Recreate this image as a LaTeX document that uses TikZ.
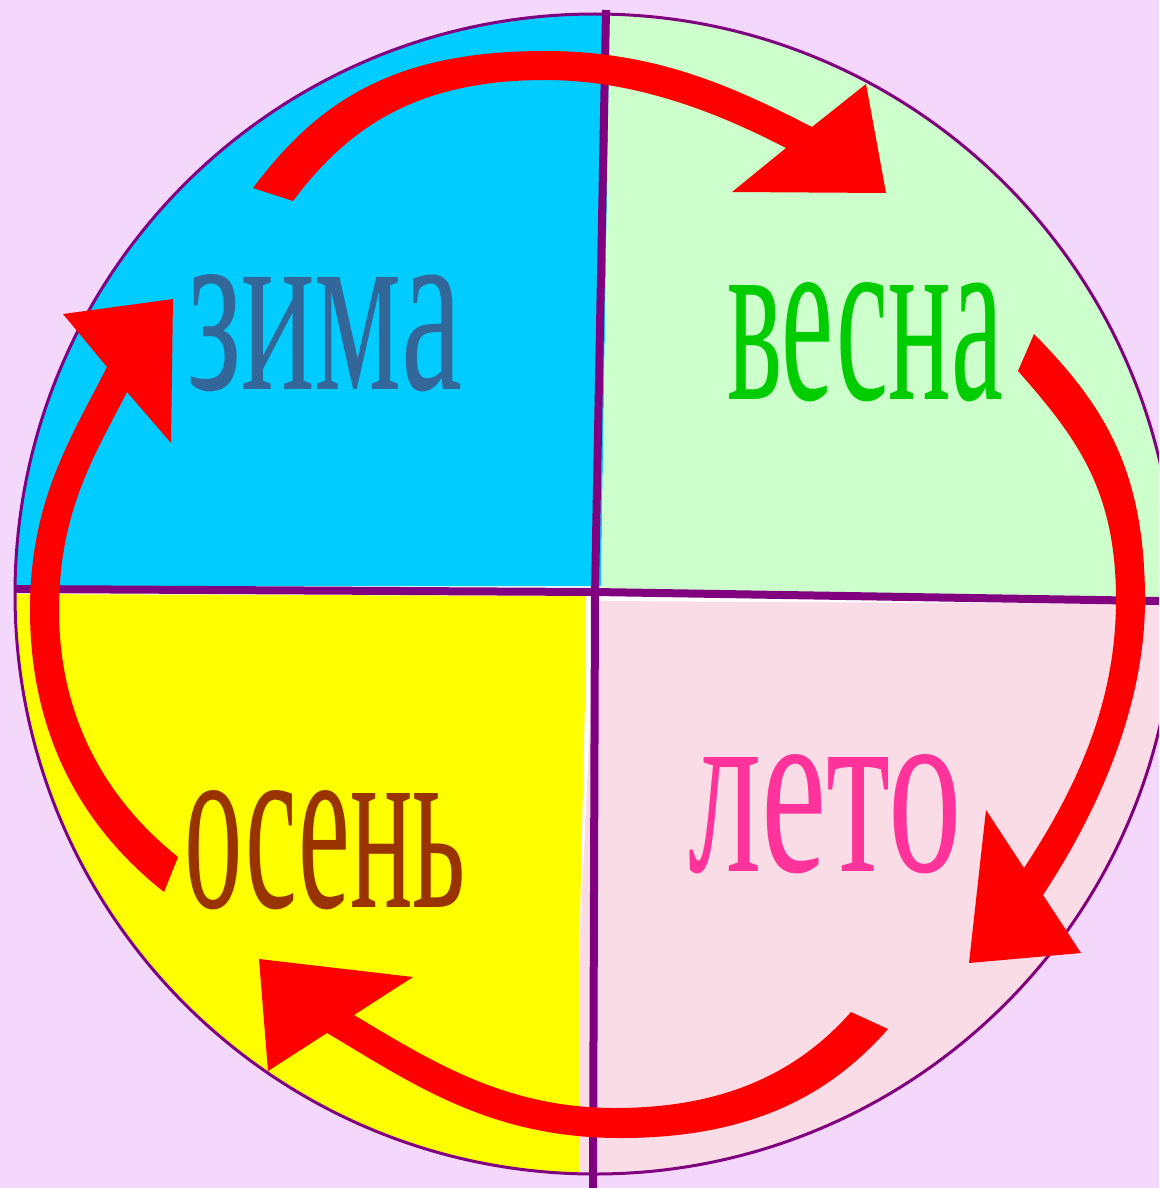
\documentclass[tikz,border=0pt]{standalone}
\usepackage{fontspec}
\usepackage{graphicx}
\newfontfamily\wordfont{Liberation Serif}
\definecolor{bgpurple}{HTML}{F4D8FC}
\definecolor{qblue}{HTML}{00CCFF}
\definecolor{qgreen}{HTML}{CCFFCC}
\definecolor{qyellow}{HTML}{FFFF00}
\definecolor{qpink}{HTML}{FADCE6}
\definecolor{linepurple}{HTML}{800080}
\definecolor{arrowred}{HTML}{FF0000}
\definecolor{tzima}{HTML}{336699}
\definecolor{tvesna}{HTML}{00CC00}
\definecolor{tosen}{HTML}{993300}
\definecolor{tleto}{HTML}{FF3399}
\tikzset{
  divline/.style={draw=linepurple, line width=8pt},
  rim/.style={draw=linepurple, line width=3pt},
  bandarrow/.style={fill=arrowred},
  word/.style={anchor=south west, inner sep=0pt, outer sep=0pt}
}
\begin{document}
\begin{tikzpicture}[x=1pt,y=-1pt]
\useasboundingbox (0,0) rectangle (1159,1188);
\clip (0,0) rectangle (1159,1188);
\fill[bgpurple] (0,0) rectangle (1159,1188);
% quadrants
\fill[white] (595,594) circle[radius=580];
\begin{scope}
  \clip (595,594) circle[radius=580];
  \fill[qblue] (0,0) -- (610,0) -- (601,586) -- (0,586) -- cycle;
  \fill[qgreen] (610,0) -- (1159,0) -- (1159,597) -- (601,590) -- cycle;
  \fill[qyellow] (0,594) -- (585,596) -- (585,700) -- (579,960) -- (579,1188) -- (0,1188) -- cycle;
  \fill[qpink] (597,601) -- (1159,604) -- (1159,1188) -- (579,1188) -- (579,960) -- (590,720) -- cycle;
\end{scope}
\draw[rim] (595,594) circle[radius=580];
% dividing lines
\draw[divline] (606,10) -- (595,592) -- (593,1188);
\draw[divline] (15,589) -- (595,592) -- (1159,601);
% top arrow: winter -> spring
\fill[bandarrow] (253,188) .. controls (319,100) and (395,51) .. (545,51)
  .. controls (655,51) and (732,86) .. (812,127)
  -- (866,84) -- (886,193) -- (732,192) -- (786,148)
  .. controls (724,116) and (640,80) .. (545,80)
  .. controls (415,80) and (347,129) .. (293,201) -- cycle;
% right arrow: spring -> summer
\fill[bandarrow] (1034,334) .. controls (1104,405) and (1145,470) .. (1145,600)
  .. controls (1145,700) and (1103.5,803) .. (1043,895)
  -- (1081,953) -- (969,963) -- (986,810) -- (1024,868)
  .. controls (1079,784.5) and (1116,700) .. (1116,600)
  .. controls (1116,490) and (1077,438) .. (1018,371) -- cycle;
% bottom arrow: summer -> autumn
\fill[bandarrow] (851,1012) .. controls (798,1072) and (725,1108) .. (615,1108)
  .. controls (505,1108) and (431,1061) .. (354,1015)
  -- (413,977) -- (259,959) -- (268,1071) -- (327,1033)
  .. controls (413,1084) and (490,1138) .. (620,1138)
  .. controls (750,1138) and (829,1096) .. (888,1029) -- cycle;
% left arrow: autumn -> winter
\fill[bandarrow] (164,892) .. controls (78,824) and (30,730) .. (30,610)
  .. controls (30,500) and (71,438) .. (107,367)
  -- (63,314) -- (173,299) -- (171,443) -- (127,392)
  .. controls (95.5,454) and (59,510) .. (59,610)
  .. controls (59,720) and (108,801) .. (178,857) -- cycle;
% words
\node[word] (zima) at (187,392) {\resizebox{275pt}{115pt}{\wordfont\color{tzima}зима}};
\node[word] (vesna) at (727,402) {\resizebox{276pt}{117pt}{\wordfont\color{tvesna}весна}};
\node[word] (osen) at (184,910) {\resizebox{282pt}{117pt}{\wordfont\color{tosen}осень}};
\node[word] (leto) at (688,874) {\resizebox{274pt}{117pt}{\wordfont\color{tleto}лето}};
\end{tikzpicture}
\end{document}
